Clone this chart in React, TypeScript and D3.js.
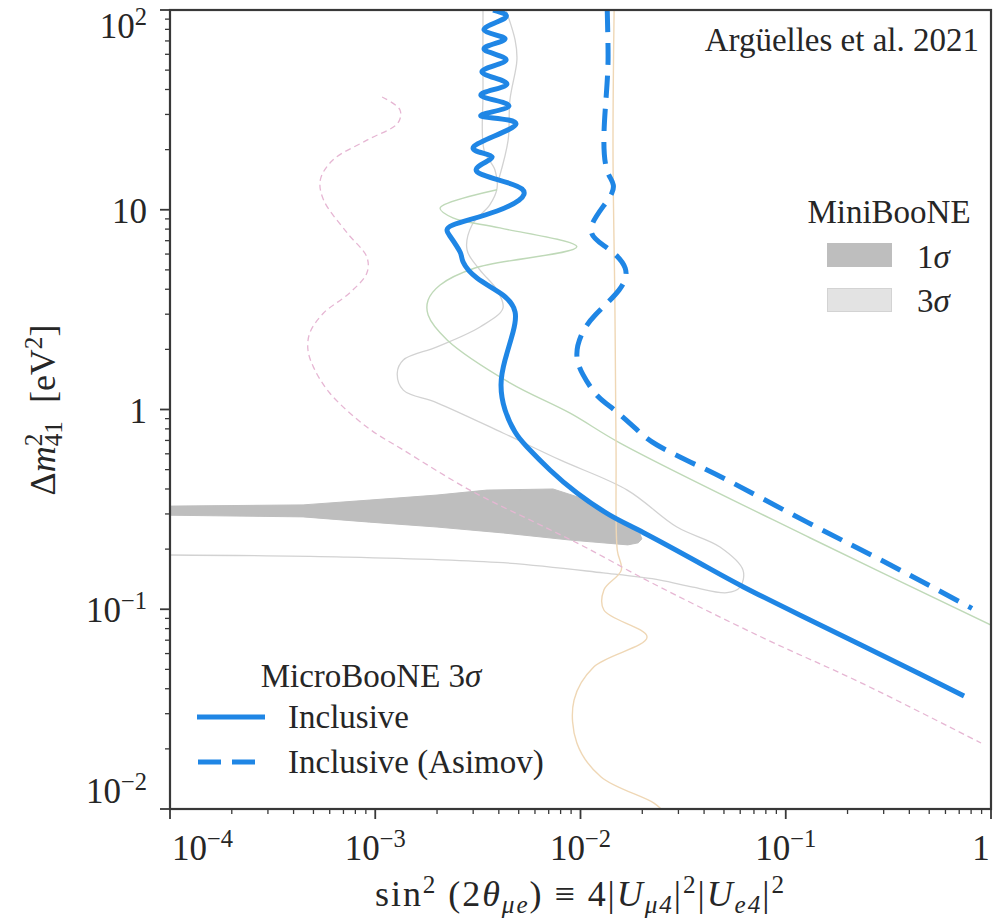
import React from "react";
import * as d3 from "d3";

// Each point is [sin^2(2θμe), Δm²41 in eV²]
type Pt = [number, number];

// MicroBooNE 3σ inclusive exclusion (observed)
const inclusive: Pt[] = [
  [3.75e-3, 100], [4.29e-3, 91.2], [3.39e-3, 79.4], [4.29e-3, 71.6], [3.39e-3, 63.8],
  [4.34e-3, 56.2], [3.31e-3, 49.0], [4.38e-3, 42.6], [3.27e-3, 37.5], [4.48e-3, 33.1],
  [3.27e-3, 29.5], [4.85e-3, 26.9], [3.03e-3, 20.8], [3.71e-3, 18.4], [3.13e-3, 15.5],
  [5.19e-3, 12.7], [3.92e-3, 9.86], [2.39e-3, 8.39], [2.31e-3, 7.39], [2.59e-3, 6.14],
  [2.68e-3, 5.47], [3.13e-3, 4.55], [4.19e-3, 3.74], [4.8e-3, 3.08], [4.69e-3, 2.44],
  [4.29e-3, 1.77], [4.1e-3, 1.33], [4.29e-3, 0.993], [4.8e-3, 0.771], [5.49e-3, 0.649],
  [7.1e-3, 0.498], [9.62e-3, 0.382], [1.39e-2, 0.296], [2.04e-2, 0.241], [3.82e-2, 0.17],
  [6.26e-2, 0.129], [0.117, 0.0936], [0.233, 0.0662], [0.451, 0.0474], [0.739, 0.0368],
];

// MicroBooNE 3σ inclusive exclusion (Asimov sensitivity)
const inclusiveAsimov: Pt[] = [
  [1.35e-2, 100], [1.36e-2, 70.8], [1.36e-2, 51.9], [1.33e-2, 35.4], [1.3e-2, 22.3],
  [1.36e-2, 15.3], [1.42e-2, 12.1], [1.13e-2, 8.2], [1.35e-2, 6.44], [1.65e-2, 5.11],
  [1.54e-2, 3.96], [1.18e-2, 2.97], [1.01e-2, 2.36], [9.6e-3, 1.87], [1.03e-2, 1.49],
  [1.2e-2, 1.18], [1.42e-2, 1.02], [1.89e-2, 0.789], [2.36e-2, 0.664], [3.42e-2, 0.546],
  [5.17e-2, 0.444], [0.127, 0.273], [0.322, 0.167], [0.808, 0.101],
];

// MiniBooNE 1σ allowed band: upper edge (left to right), then lower edge (right to left)
const miniBooNE1SigmaUpper: Pt[] = [
  [9e-5, 0.328], [4.45e-4, 0.333], [9.4e-4, 0.352], [2.0e-3, 0.373], [3.5e-3, 0.395],
  [7.35e-3, 0.4], [1.08e-2, 0.352], [1.56e-2, 0.28], [1.78e-2, 0.255], [1.95e-2, 0.238],
  [1.99e-2, 0.225],
];
const miniBooNE1SigmaLower: Pt[] = [
  [1.91e-2, 0.215], [1.7e-2, 0.21], [8.9e-3, 0.222], [4.2e-3, 0.241], [2.0e-3, 0.258],
  [9.4e-4, 0.273], [4.45e-4, 0.29], [9e-5, 0.296],
];

// MiniBooNE 3σ contour outline
const miniBooNE3SigmaMain: Pt[] = [
  [9e-5, 0.187], [6.5e-4, 0.183], [4.2e-3, 0.171], [1.29e-2, 0.152], [2.44e-2, 0.14],
  [3.53e-2, 0.129], [5.17e-2, 0.121], [5.99e-2, 0.129], [6.19e-2, 0.157], [4.78e-2, 0.205],
  [2.95e-2, 0.258], [1.69e-2, 0.395], [7.95e-3, 0.559], [4.19e-3, 0.763], [2.0e-3, 1.08],
  [1.37e-3, 1.25], [1.28e-3, 1.52], [1.37e-3, 1.77], [2.0e-3, 2.06], [3.24e-3, 2.59],
  [4.19e-3, 3.22], [3.92e-3, 3.96], [3.24e-3, 4.99], [2.8e-3, 6.29], [2.96e-3, 8.39],
  [3.62e-3, 10.6], [3.92e-3, 12.8], [3.83e-3, 15.8], [3.39e-3, 19.9], [3.35e-3, 39.7],
  [3.35e-3, 110],
];
const miniBooNE3SigmaEdge: Pt[] = [
  [4.19e-3, 110], [4.8e-3, 70.8], [4.9e-3, 56.2], [4.53e-3, 35.4], [4.44e-3, 22.3],
  [4.01e-3, 14.4],
];

// Faint bounds from other experiments
const boundGreen: Pt[] = [
  [3.92e-3, 12.6], [2.07e-3, 10.2], [2.39e-3, 9.1], [4.05e-3, 8.11], [9.6e-3, 6.52],
  [3.06e-3, 5.11], [2.07e-3, 4.2], [1.81e-3, 3.53], [1.81e-3, 2.97], [2.24e-3, 2.23],
  [4.53e-3, 1.36], [8.9e-3, 0.959], [1.56e-2, 0.679], [0.131, 0.228], [1.0, 0.0834],
];
const boundPink: Pt[] = [
  [1.08e-3, 36.7], [1.32e-3, 31.6], [1.29e-3, 27.2], [9.1e-4, 22.3], [6.2e-4, 17.7],
  [5.4e-4, 14.1], [5.6e-4, 11.2], [7.3e-4, 7.65], [9.1e-4, 5.8], [9.1e-4, 4.82],
  [7.5e-4, 3.83], [5.6e-4, 3.04], [4.8e-4, 2.42], [4.7e-4, 1.99], [5.0e-4, 1.63],
  [6.0e-4, 1.21], [9.1e-4, 0.817], [1.37e-3, 0.627], [2.89e-3, 0.395], [6.1e-3, 0.27],
  [1.05e-2, 0.205], [2.18e-2, 0.137], [7.6e-2, 0.0726], [0.233, 0.0428], [0.894, 0.0214],
];
const boundTan: Pt[] = [
  [1.46e-2, 110], [1.44e-2, 19.9], [1.47e-2, 3.53], [1.49e-2, 0.627], [1.51e-2, 0.198],
  [1.58e-2, 0.157], [1.3e-2, 0.125], [1.3e-2, 0.0991], [2.11e-2, 0.0726], [1.16e-2, 0.0514],
  [9.3e-3, 0.0351], [9.6e-3, 0.0214], [1.26e-2, 0.01446], [2.28e-2, 0.0107], [2.6e-2, 0.0095],
];

// Axis ticks
const xMajorTicks = [1e-4, 1e-3, 1e-2, 1e-1, 1];
const xTickExponents = ["−4", "−3", "−2", "−1", ""];
const yMajorTicks = [1e-2, 1e-1, 1, 10, 100];
const yTickBases = ["10", "10", "1", "10", "10"];
const yTickExponents = ["−2", "−1", "", "", "2"];

const FONT = "'Liberation Serif', 'DejaVu Serif', serif";
const BLUE = "#1f86e5";
const AXIS = "#383838";
const INK = "#262626";

const W = 994;
const H = 921;
const L = 170;
const R = 991;
const T = 10;
const B = 809;

type Seg = { t: string; it?: boolean; pos?: "sup" | "sub"; dx?: number };

function rich(segs: Seg[], size: number) {
  let cur = 0;
  return segs.map((s, i) => {
    const target = s.pos === "sup" ? -0.37 * size : s.pos === "sub" ? 0.2 * size : 0;
    const dy = target - cur;
    cur = target;
    return (
      <tspan
        key={i}
        dy={dy}
        dx={s.dx}
        fontStyle={s.it ? "italic" : undefined}
        fontSize={s.pos ? size * 0.7 : undefined}
      >
        {s.t}
      </tspan>
    );
  });
}

function minorTicks(lo: number, hi: number) {
  const out: number[] = [];
  for (let e = Math.floor(Math.log10(lo)); e < Math.ceil(Math.log10(hi)); e++) {
    for (let m = 2; m <= 9; m++) {
      const v = m * Math.pow(10, e);
      if (v > lo && v < hi) out.push(v);
    }
  }
  return out;
}

export default function App() {
  const x = d3.scaleLog().domain([1e-4, 1]).range([L, R]);
  const y = d3.scaleLog().domain([1e-2, 1e2]).range([B, T]);

  const smooth = d3
    .line<Pt>()
    .x((d) => x(d[0]))
    .y((d) => y(d[1]))
    .curve(d3.curveCatmullRom.alpha(0.5));
  const spline = d3
    .line<Pt>()
    .x((d) => x(d[0]))
    .y((d) => y(d[1]))
    .curve(d3.curveNatural);
  const closed = d3
    .line<Pt>()
    .x((d) => x(d[0]))
    .y((d) => y(d[1]))
    .curve(d3.curveLinearClosed);

  const tickFs = 35;
  const textFs = 33;
  const axisFs = 36;

  return (
    <div style={{ position: "absolute", left: 0, top: 0 }}>
      <svg width={W} height={H} viewBox={`0 0 ${W} ${H}`} style={{ display: "block", background: "#fff" }}>
        <defs>
          <clipPath id="plotArea">
            <rect x={L} y={T} width={R - L} height={B - T} />
          </clipPath>
        </defs>

        <g clipPath="url(#plotArea)">
          {/* MiniBooNE 1σ band */}
          <path d={closed(miniBooNE1SigmaUpper.concat(miniBooNE1SigmaLower)) || ""} fill="#bebebe" stroke="#bebebe" strokeWidth={1} strokeLinejoin="round" />
          {/* MiniBooNE 3σ outline */}
          <path d={smooth(miniBooNE3SigmaMain) || ""} fill="none" stroke="#d2d2d2" strokeWidth={1.3} />
          <path d={smooth(miniBooNE3SigmaEdge) || ""} fill="none" stroke="#d2d2d2" strokeWidth={1.3} />
          {/* other bounds */}
          <path d={smooth(boundGreen) || ""} fill="none" stroke="#bfd9b8" strokeWidth={1.4} />
          <path d={smooth(boundTan) || ""} fill="none" stroke="#efd7b5" strokeWidth={1.4} />
          <path d={smooth(boundPink) || ""} fill="none" stroke="#e6b6d3" strokeWidth={1.3} strokeDasharray="6,4" />
          {/* MicroBooNE */}
          <path d={spline(inclusiveAsimov) || ""} fill="none" stroke={BLUE} strokeWidth={5} strokeDasharray="22,11" />
          <path d={spline(inclusive) || ""} fill="none" stroke={BLUE} strokeWidth={5} strokeLinejoin="round" />
        </g>

        {/* frame */}
        <rect x={L} y={T} width={R - L} height={B - T} fill="none" stroke={AXIS} strokeWidth={2.2} />

        {/* x ticks */}
        {xMajorTicks.map((t) => (
          <line key={"xM" + t} x1={x(t)} x2={x(t)} y1={B} y2={B + 10} stroke={AXIS} strokeWidth={1.8} />
        ))}
        {minorTicks(1e-4, 1).map((t) => (
          <line key={"xm" + t} x1={x(t)} x2={x(t)} y1={B} y2={B + 5} stroke={AXIS} strokeWidth={1.3} />
        ))}
        {xMajorTicks.map((t, i) => {
          const first = i === 0;
          const last = i === xMajorTicks.length - 1;
          const px = first ? x(t) + 2 : last ? x(t) - 10 : x(t);
          return (
            <text
              key={"xl" + t}
              x={px}
              y={860}
              fontFamily={FONT}
              fontSize={tickFs}
              fill={INK}
              textAnchor={first ? "start" : "middle"}
              style={{ whiteSpace: "pre" }}
            >
              {xTickExponents[i]
                ? rich([{ t: "10" }, { t: xTickExponents[i], pos: "sup" }], tickFs)
                : "1"}
            </text>
          );
        })}

        {/* y ticks */}
        {yMajorTicks.map((t) => (
          <line key={"yM" + t} x1={L - 10} x2={L} y1={y(t)} y2={y(t)} stroke={AXIS} strokeWidth={1.8} />
        ))}
        {minorTicks(1e-2, 1e2).map((t) => (
          <line key={"ym" + t} x1={L - 5} x2={L} y1={y(t)} y2={y(t)} stroke={AXIS} strokeWidth={1.3} />
        ))}
        {yMajorTicks.map((t, i) => {
          const base = y(t);
          const py = i === 0 ? base - 6 : i === yMajorTicks.length - 1 ? base + 28 : base + 13;
          return (
            <text
              key={"yl" + t}
              x={147}
              y={py}
              fontFamily={FONT}
              fontSize={tickFs}
              fill={INK}
              textAnchor="end"
              style={{ whiteSpace: "pre" }}
            >
              {yTickExponents[i]
                ? rich([{ t: yTickBases[i] }, { t: yTickExponents[i], pos: "sup" }], tickFs)
                : yTickBases[i]}
            </text>
          );
        })}

        {/* axis titles */}
        <text
          x={375}
          y={906}
          fontFamily={FONT}
          fontSize={axisFs}
          fill={INK}
          textLength={409}
          lengthAdjust="spacing"
          style={{ whiteSpace: "pre" }}
        >
          {rich(
            [
              { t: "sin" },
              { t: "2", pos: "sup" },
              { t: " (2" },
              { t: "θ", it: true },
              { t: "μe", it: true, pos: "sub" },
              { t: ") ≡ 4|" },
              { t: "U", it: true },
              { t: "μ4", it: true, pos: "sub" },
              { t: "|" },
              { t: "2", pos: "sup" },
              { t: "|" },
              { t: "U", it: true },
              { t: "e4", it: true, pos: "sub" },
              { t: "|" },
              { t: "2", pos: "sup" },
            ],
            axisFs
          )}
        </text>
        <text
          transform="translate(55,410) rotate(-90)"
          fontFamily={FONT}
          fontSize={axisFs}
          fill={INK}
          textAnchor="middle"
          style={{ whiteSpace: "pre" }}
        >
          {rich(
            [
              { t: "Δ" },
              { t: "m", it: true },
              { t: "2", pos: "sup" },
              { t: "41", pos: "sub", dx: -axisFs * 0.35 },
              { t: "  [eV" },
              { t: "2", pos: "sup" },
              { t: "]" },
            ],
            axisFs
          )}
        </text>

        {/* annotation */}
        <text x={979} y={51} fontFamily={FONT} fontSize={textFs} fill={INK} textAnchor="end">
          Argüelles et al. 2021
        </text>

        {/* MiniBooNE legend */}
        <text x={889} y={223} fontFamily={FONT} fontSize={textFs} fill={INK} textAnchor="middle">
          MiniBooNE
        </text>
        <rect x={827} y={243} width={65} height={24} fill="#bebebe" />
        <rect x={827.5} y={288.5} width={64} height={23} fill="#e3e3e3" stroke="#d3d3d3" strokeWidth={1} />
        <text x={917} y={268} fontFamily={FONT} fontSize={textFs} fill={INK} style={{ whiteSpace: "pre" }}>
          {rich([{ t: "1" }, { t: "σ", it: true }], textFs)}
        </text>
        <text x={917} y={312} fontFamily={FONT} fontSize={textFs} fill={INK} style={{ whiteSpace: "pre" }}>
          {rich([{ t: "3" }, { t: "σ", it: true }], textFs)}
        </text>

        {/* MicroBooNE legend */}
        <text x={371} y={687} fontFamily={FONT} fontSize={textFs} fill={INK} textAnchor="middle" style={{ whiteSpace: "pre" }}>
          {rich([{ t: "MicroBooNE 3" }, { t: "σ", it: true }], textFs)}
        </text>
        <line x1={197} x2={265} y1={717} y2={717} stroke={BLUE} strokeWidth={5} />
        <line x1={198} x2={265} y1={762} y2={762} stroke={BLUE} strokeWidth={5} strokeDasharray="23,11" />
        <text x={288} y={728} fontFamily={FONT} fontSize={textFs} fill={INK}>
          Inclusive
        </text>
        <text x={288} y={773} fontFamily={FONT} fontSize={textFs} fill={INK}>
          Inclusive (Asimov)
        </text>
      </svg>
    </div>
  );
}
